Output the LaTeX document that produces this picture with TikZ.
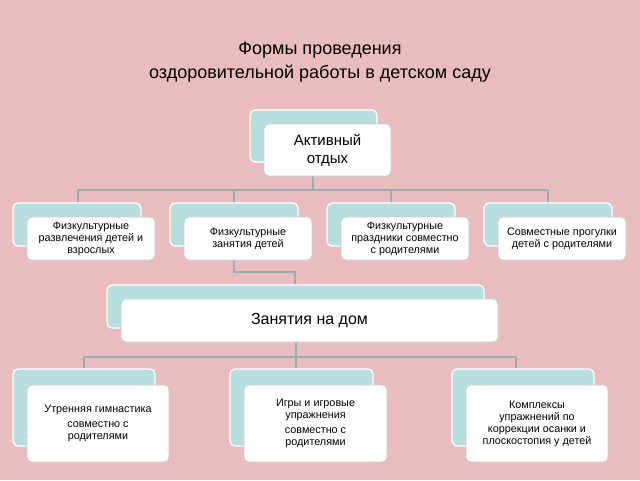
\documentclass[tikz,border=0pt]{standalone}
\usepackage{fontspec}
\setmainfont{Liberation Sans}
\definecolor{bg}{HTML}{E9BDBF}
\definecolor{backc}{HTML}{B9DEDF}
\definecolor{linec}{HTML}{9AAEAF}
\begin{document}
\begin{tikzpicture}[x=1pt,y=-1pt,
  backbox/.style={draw=white,line width=1.2pt,fill=backc,rounded corners=5pt},
  frontbox/.style={draw=linec!60,line width=0.6pt,fill=white,rounded corners=5pt,align=center,inner sep=0pt},
  conn/.style={draw=linec,line width=1.3pt}]
\fill[bg] (0,0) rectangle (640,480);
\useasboundingbox (0,0) rectangle (640,480);
\node[align=center,font=\fontsize{18}{24}\selectfont] (title) at (320,62) {Формы проведения\\оздоровительной работы в детском саду};
% connectors
\coordinate (h1l) at (78,190); \coordinate (h1r) at (548,190);
\draw[conn] (h1l) -- (h1r);
\draw[conn] (313,176) -- (313,190);
\foreach \x in {78,234,391,548} \draw[conn] (\x,190) -- (\x,203);
\draw[conn] (234,260) -- (234,272) -- (295,272) -- (295,285);
\draw[conn] (84,357) -- (516,357);
\draw[conn] (296,342) -- (296,357);
\foreach \x in {84,296,516} \draw[conn] (\x,357) -- (\x,369);
\newcommand{\boxpair}[9]{%
  \path[backbox] (#1,#2) rectangle (#3,#4);
  \node[frontbox,minimum width=#3pt-#1pt,minimum height=#4pt-#2pt,font=#9] (#5) at ({(#1+#3)/2+#6},{(#2+#4)/2+#7}) {#8};}
\boxpair{250}{110}{377}{162}{akt}{14}{14}{Активный\\отдых}{\fontsize{15}{18}\selectfont}
\boxpair{13}{203}{141}{246}{b1}{14}{14}{Физкультурные\\развлечения детей и\\взрослых}{\fontsize{10.8}{12}\selectfont}
\boxpair{170}{203}{298}{246}{b2}{14}{14}{Физкультурные\\занятия детей}{\fontsize{10.8}{12}\selectfont}
\boxpair{327}{203}{455}{246}{b3}{14}{14}{Физкультурные\\праздники совместно\\с родителями}{\fontsize{10.8}{12}\selectfont}
\boxpair{484}{203}{612}{246}{b4}{14}{14}{Совместные прогулки\\детей с родителями}{\fontsize{10.8}{12}\selectfont}
\boxpair{107}{285}{484}{328}{zan}{14}{14}{Занятия на дом}{\fontsize{16}{19}\selectfont}
\boxpair{13}{369}{155}{446}{c1}{14}{16}{Утренняя гимнастика\\[3pt]совместно с\\родителями}{\fontsize{10.8}{12}\selectfont}
\boxpair{230}{369}{373}{446}{c2}{14}{16}{Игры и игровые\\упражнения\\[3pt]совместно с\\родителями}{\fontsize{10.8}{12}\selectfont}
\boxpair{452}{369}{594}{446}{c3}{14}{16}{Комплексы\\упражнений по\\коррекции осанки и\\плоскостопия у детей}{\fontsize{10.8}{12}\selectfont}
\end{tikzpicture}
\end{document}
